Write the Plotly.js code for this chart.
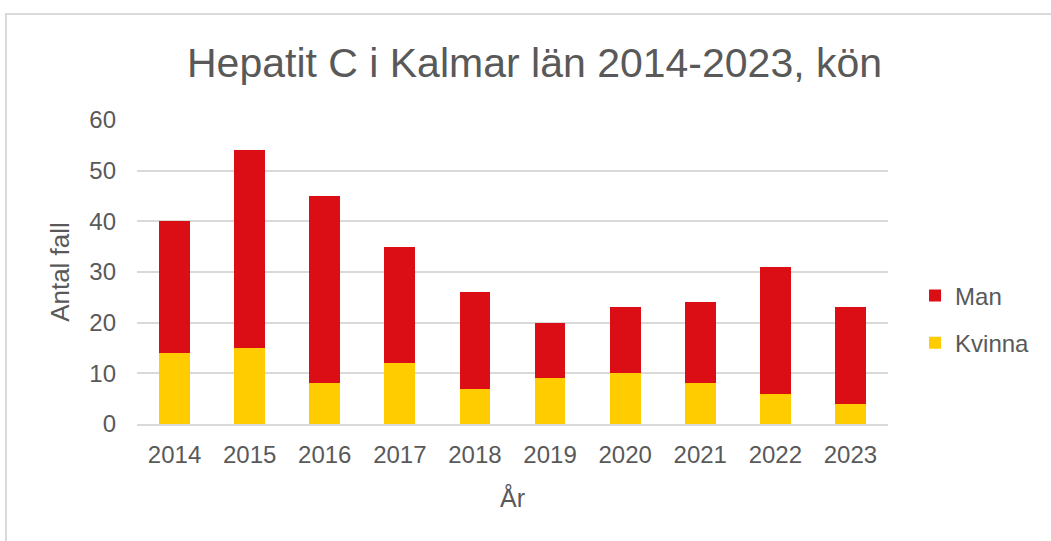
<!DOCTYPE html>
<html>
<head>
<meta charset="utf-8">
<script src="https://cdn.plot.ly/plotly-3.0.1.min.js"></script>
<style>
  html, body { margin: 0; padding: 0; background: #fff; }
  #chart { width: 1051px; height: 541px; position: absolute; left: 0; top: 0; }
  #frame { position: absolute; left: 5px; top: 13px; width: 1100px; height: 600px;
           border: 2px solid #d9d9d9; pointer-events: none; }
</style>
</head>
<body>
<div id="chart"></div>
<div id="frame"></div>
<script>
const years = ["2014", "2015", "2016", "2017", "2018", "2019", "2020", "2021", "2022", "2023"];
const kvinna = [14, 15, 8, 12, 7, 9, 10, 8, 6, 4];
const man = [26, 39, 37, 23, 19, 11, 13, 16, 25, 19];
const titleText = "Hepatit C i Kalmar län 2014-2023, kön";
const xTitle = "År";
const yTitle = "Antal fall";

const textColor = "#595959";
const font = "Arial, 'Liberation Sans', sans-serif";

const traces = [
  { type: "bar", name: "Kvinna", x: years, y: kvinna, legendgroup: "k", legendrank: 2,
    marker: { color: "#ffcc00", line: { width: 0 } } },
  { type: "bar", name: "Man", x: years, y: man, legendgroup: "m", legendrank: 1,
    marker: { color: "#dc0e15", line: { width: 0 } } }
];

const layout = {
  width: 1051, height: 541,
  margin: { l: 137, r: 163, t: 120, b: 117 },
  paper_bgcolor: "rgba(0,0,0,0)",
  plot_bgcolor: "rgba(0,0,0,0)",
  barmode: "stack",
  bargap: 0.59,
  font: { family: font, color: textColor, size: 24 },
  title: { text: titleText, font: { family: font, size: 41, color: textColor },
           x: 0.5086, xanchor: "center", xref: "container", y: 0.885, yanchor: "middle", yref: "container" },
  xaxis: {
    type: "category",
    title: { text: xTitle, font: { size: 25, color: textColor }, standoff: 23 },
    tickfont: { size: 24, color: textColor },
    showline: true, linecolor: "#d9d9d9", linewidth: 2,
    ticks: "", ticklabelstandoff: 8,
    showgrid: false
  },
  yaxis: {
    range: [0, 60], dtick: 10, tick0: 0,
    title: { text: yTitle, font: { size: 26, color: textColor }, standoff: 12 },
    tickfont: { size: 24, color: textColor },
    gridcolor: "#d9d9d9", gridwidth: 2,
    zeroline: false, showline: false,
    ticks: "", ticklabelstandoff: 20
  },
  showlegend: true,
  legend: {
    x: 1.036, xanchor: "left", y: 0.495, yanchor: "top",
    traceorder: "grouped", tracegroupgap: 13,
    font: { size: 24, color: textColor }
  }
};

Plotly.newPlot("chart", traces, layout, { staticPlot: true, displayModeBar: false });
</script>
</body>
</html>
